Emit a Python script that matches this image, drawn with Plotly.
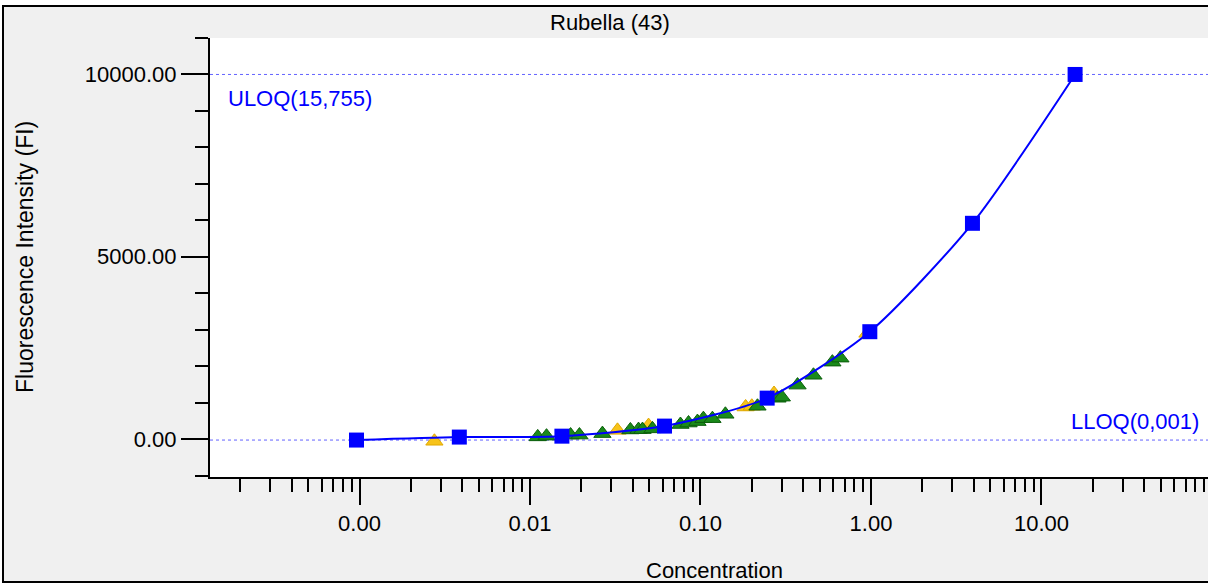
import plotly.graph_objects as go

# ---------------- data ----------------
title_text = "Rubella (43)"
x_title = "Concentration"
y_title = "Fluorescence Intensity (FI)"

# standards (blue squares + fitted curve)
std_conc = [0.00096, 0.00385, 0.01539, 0.06154, 0.24617, 0.98469, 3.93875, 15.755]
std_fi = [-27, 55, 80, 356, 1123, 2945, 5918, 10000]

# samples (green triangles)
green_conc = [0.0111, 0.0125, 0.0173, 0.0195, 0.0266, 0.0388, 0.0433, 0.0457, 0.0523,
              0.0763, 0.0851, 0.0960, 0.104, 0.1175, 0.140, 0.216, 0.283, 0.300,
              0.371, 0.460, 0.594, 0.662]
green_fi = [60, 80, 110, 110, 150, 250, 260, 260, 280,
            400, 440, 480, 560, 560, 680, 900, 1120, 1150,
            1480, 1750, 2110, 2220]

# controls (yellow triangles)
yellow_conc = [0.00275, 0.0326, 0.0496, 0.184, 0.200, 0.270, 0.954]
yellow_fi = [-60, 240, 370, 880, 900, 1250, 2900]

uloq_label = "ULOQ(15,755)"
lloq_label = "LLOQ(0,001)"
uloq_fi = std_fi[-1]
lloq_fi = std_fi[0]

y_major_ticks = [0, 5000, 10000]
x_major_ticks = [0.001, 0.01, 0.1, 1, 10]
x_tick_text = ["0.00", "0.01", "0.10", "1.00", "10.00"]

# ---------------- figure ----------------
W, H = 1208, 585
L, R, T, B = 210, 0, 38, 108
pw, ph = W - L - R, H - T - B

def px_x(p):  # pixel -> paper x
    return (p - L) / pw

def px_y(p):  # pixel -> paper y
    return (H - B - p) / ph

FONT = "Liberation Sans, Arial, sans-serif"
BLUE = "#0000ff"

fig = go.Figure()

fig.add_trace(go.Scatter(
    x=yellow_conc, y=yellow_fi, mode="markers",
    marker=dict(symbol="triangle-up", size=15, color="#f7c31a",
                line=dict(color="#e0a800", width=1)),
    showlegend=False, hoverinfo="x+y"))

fig.add_trace(go.Scatter(
    x=green_conc, y=green_fi, mode="markers",
    marker=dict(symbol="triangle-up", size=15, color="#1a8a1a",
                line=dict(color="#0c5e0c", width=1)),
    showlegend=False, hoverinfo="x+y"))

fig.add_trace(go.Scatter(
    x=std_conc, y=std_fi, mode="lines+markers",
    line=dict(color=BLUE, width=2, shape="spline", smoothing=0.7),
    marker=dict(symbol="square", size=15, color=BLUE, line=dict(width=0)),
    showlegend=False, hoverinfo="x+y"))

shapes = [
    # ULOQ / LLOQ reference lines
    dict(type="line", xref="paper", yref="y", x0=0, x1=1, y0=uloq_fi, y1=uloq_fi,
         line=dict(color="rgba(60,60,255,0.8)", width=1, dash="dot"), layer="below"),
    dict(type="line", xref="paper", yref="y", x0=0, x1=1, y0=lloq_fi, y1=lloq_fi,
         line=dict(color="rgba(60,60,255,0.8)", width=1, dash="dot"), layer="below"),
    # white margins outside the frame
    dict(type="rect", xref="paper", yref="paper", x0=px_x(-5), x1=px_x(3), y0=px_y(H + 5), y1=px_y(-5),
         fillcolor="white", line=dict(width=0)),
    dict(type="rect", xref="paper", yref="paper", x0=px_x(-5), x1=px_x(W + 5), y0=px_y(6), y1=px_y(-5),
         fillcolor="white", line=dict(width=0)),
    dict(type="rect", xref="paper", yref="paper", x0=px_x(-5), x1=px_x(W + 5), y0=px_y(H + 5), y1=px_y(582),
         fillcolor="white", line=dict(width=0)),
    # outer frame
    dict(type="rect", xref="paper", yref="paper", x0=px_x(3), x1=px_x(W + 10), y0=px_y(582), y1=px_y(6),
         line=dict(color="black", width=2), fillcolor="rgba(0,0,0,0)"),
]

annotations = [
    dict(text=title_text, xref="paper", yref="paper", x=px_x(610), y=px_y(22),
         xanchor="center", yanchor="middle", showarrow=False,
         font=dict(family=FONT, size=22, color="black")),
    dict(text=x_title, xref="paper", yref="paper", x=px_x(714), y=px_y(570),
         xanchor="center", yanchor="middle", showarrow=False,
         font=dict(family=FONT, size=22, color="black")),
    dict(text=y_title, xref="paper", yref="paper", x=px_x(25), y=px_y(257),
         xanchor="center", yanchor="middle", showarrow=False, textangle=-90,
         font=dict(family=FONT, size=23, color="black")),
    dict(text=uloq_label, xref="paper", yref="y", x=px_x(226), y=uloq_fi,
         xanchor="left", yanchor="top", yshift=-10, showarrow=False,
         font=dict(family=FONT, size=22, color=BLUE)),
    dict(text=lloq_label, xref="paper", yref="y", x=px_x(1201), y=lloq_fi,
         xanchor="right", yanchor="bottom", yshift=4, showarrow=False,
         font=dict(family=FONT, size=22, color=BLUE)),
]

fig.update_layout(
    width=W, height=H,
    margin=dict(l=L, r=R, t=T, b=B, pad=0),
    paper_bgcolor="#f0f0f0", plot_bgcolor="white",
    font=dict(family=FONT, size=22, color="black"),
    shapes=shapes, annotations=annotations,
    xaxis=dict(
        type="log", range=[-3.877, 1.977],
        tickmode="array", tickvals=x_major_ticks, ticktext=x_tick_text,
        ticks="outside", ticklen=26, tickwidth=2, tickcolor="black",
        showline=True, linecolor="black", linewidth=2,
        showgrid=False, zeroline=False,
        tickfont=dict(family=FONT, size=22, color="black"),
        minor=dict(dtick="D1", ticks="outside", ticklen=13, tickwidth=2,
                   tickcolor="black", showgrid=False),
    ),
    yaxis=dict(
        range=[-1040, 11000],
        tickmode="array", tickvals=y_major_ticks, tickformat=".2f",
        ticks="outside", ticklen=27, tickwidth=2, tickcolor="black",
        showline=True, linecolor="black", linewidth=2,
        showgrid=False, zeroline=False,
        tickfont=dict(family=FONT, size=22, color="black"),
        minor=dict(dtick=1000, ticks="outside", ticklen=13, tickwidth=2,
                   tickcolor="black", showgrid=False),
    ),
)

fig.write_html("out.html")
